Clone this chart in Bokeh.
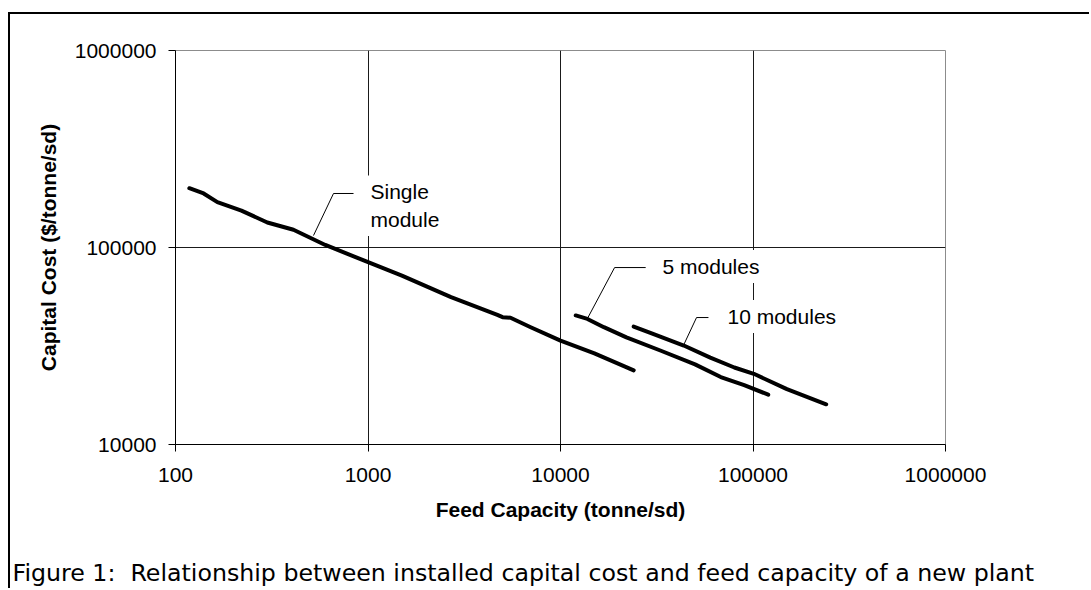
from bokeh.plotting import figure
from bokeh.models import Range1d, FixedTicker, Label, Title, LinearAxis
from bokeh.embed import file_html
from bokeh.resources import INLINE

# ---- data ----
single_x = [118, 140, 165, 220, 300, 410, 600, 950, 1500, 2700, 4700, 5000, 5500, 7000, 10000, 15000, 24000]
single_y = [200000, 188000, 170000, 154000, 134000, 123000, 103000, 86000, 72000, 56000, 45500, 44300, 44000, 39400, 33700, 29000, 23800]

five_x = [12000, 13800, 16800, 22000, 33000, 50000, 68000, 90000, 120000]
five_y = [45200, 43400, 39400, 35000, 30000, 25500, 22000, 20000, 17900]

ten_x = [24000, 30000, 43700, 60000, 80000, 101000, 150000, 240000]
ten_y = [39700, 36500, 31800, 27600, 24600, 22850, 19100, 16000]

x_ticks = [100, 1000, 10000, 100000, 1000000]
x_tick_labels = ["100", "1000", "10000", "100000", "1000000"]
y_ticks = [10000, 100000, 1000000]
y_tick_labels = ["10000", "100000", "1000000"]

# annotations: leader lines and label anchors (data units)
single_leader_x = [521, 662, 841]
single_leader_y = [115000, 188000, 188000]
five_leader_x = [13800, 19100, 27700]
five_leader_y = [43600, 79100, 79100]
ten_leader_x = [43500, 50900, 58700]
ten_leader_y = [31800, 44100, 44100]

label_texts = ["Single\nmodule", "5 modules", "10 modules"]
label_x = [1030, 33900, 73700]
label_y = [163000, 80100, 44600]

x_title = "Feed Capacity (tonne/sd)"
y_title = "Capital Cost ($/tonne/sd)"
caption = "Figure 1:\u00a0 Relationship between installed capital cost and feed capacity of a new plant"

FONT = "Liberation Sans"

p = figure(width=1081, height=576, x_axis_type="log", y_axis_type="log",
           x_range=Range1d(100, 1000000), y_range=Range1d(10000, 1000000),
           output_backend="svg", toolbar_location=None,
           min_border_left=165, min_border_right=146,
           min_border_top=36, min_border_bottom=146)
p.margin = (12, 0, 0, 8)
p.styles = {"border-left": "2px solid black", "border-top": "2px solid black"}
p.background_fill_color = "white"
p.border_fill_color = "white"
p.outline_line_color = "#8c8c8c"
p.outline_line_width = 1

for ax, ticks, labels, title in ((p.xaxis, x_ticks, x_tick_labels, x_title),
                                  (p.yaxis, y_ticks, y_tick_labels, y_title)):
    ax.ticker = FixedTicker(ticks=ticks)
    ax.major_label_overrides = {t: s for t, s in zip(ticks, labels)}
    ax.axis_label = title
    ax.axis_label_text_font = FONT
    ax.axis_label_text_font_style = "bold"
    ax.axis_label_text_font_size = "21px"
    ax.axis_label_text_color = "black"
    ax.major_label_text_font = FONT
    ax.major_label_text_font_size = "21px"
    ax.major_label_text_color = "black"
    ax.major_tick_out = 7
    ax.major_tick_in = 0
    ax.major_tick_line_color = "black"
    ax.minor_tick_line_color = None
    ax.axis_line_color = "black"
    ax.axis_line_width = 1

p.yaxis.major_label_standoff = 12
p.yaxis.axis_label_standoff = 12
p.xaxis.major_label_standoff = 16
p.xaxis.axis_label_standoff = 13
p.yaxis.major_label_orientation = "horizontal"

p.xgrid.ticker = FixedTicker(ticks=[1000, 10000, 100000])
p.ygrid.ticker = FixedTicker(ticks=[100000])
p.xgrid.grid_line_color = "#1a1a1a"
p.ygrid.grid_line_color = "#1a1a1a"
p.xgrid.grid_line_width = 1
p.ygrid.grid_line_width = 1

# data lines
for xs, ys in ((single_x, single_y), (five_x, five_y), (ten_x, ten_y)):
    p.line(xs, ys, line_color="black", line_width=4, line_cap="round", line_join="round")

# leader lines
for xs, ys in ((single_leader_x, single_leader_y), (five_leader_x, five_leader_y),
               (ten_leader_x, ten_leader_y)):
    p.line(xs, ys, line_color="black", line_width=1)

# series labels with white background
for t, lx, ly in zip(label_texts, label_x, label_y):
    p.add_layout(Label(x=lx, y=ly, text=t, text_font=FONT, text_font_size="21px",
                       text_color="black", text_align="left", text_baseline="middle",
                       background_fill_color="white", padding=5, x_offset=-5))

# invisible spacer between the x axis and the caption
spacer = LinearAxis(ticker=FixedTicker(ticks=[100]), major_label_overrides={100: ""},
                    major_tick_out=33, major_tick_in=0, major_label_standoff=0,
                    axis_line_color=None, major_tick_line_color=None,
                    minor_tick_line_color=None, major_label_text_font_size="1px")
p.add_layout(spacer, "below")

# caption below the chart
p.add_layout(Title(text=caption, align="left", offset=-163, standoff=0,
                   text_font="DejaVu Sans", text_font_size="23.7px",
                   text_font_style="normal", text_color="black"), "below")

open("out.html", "w").write(file_html(p, INLINE))
